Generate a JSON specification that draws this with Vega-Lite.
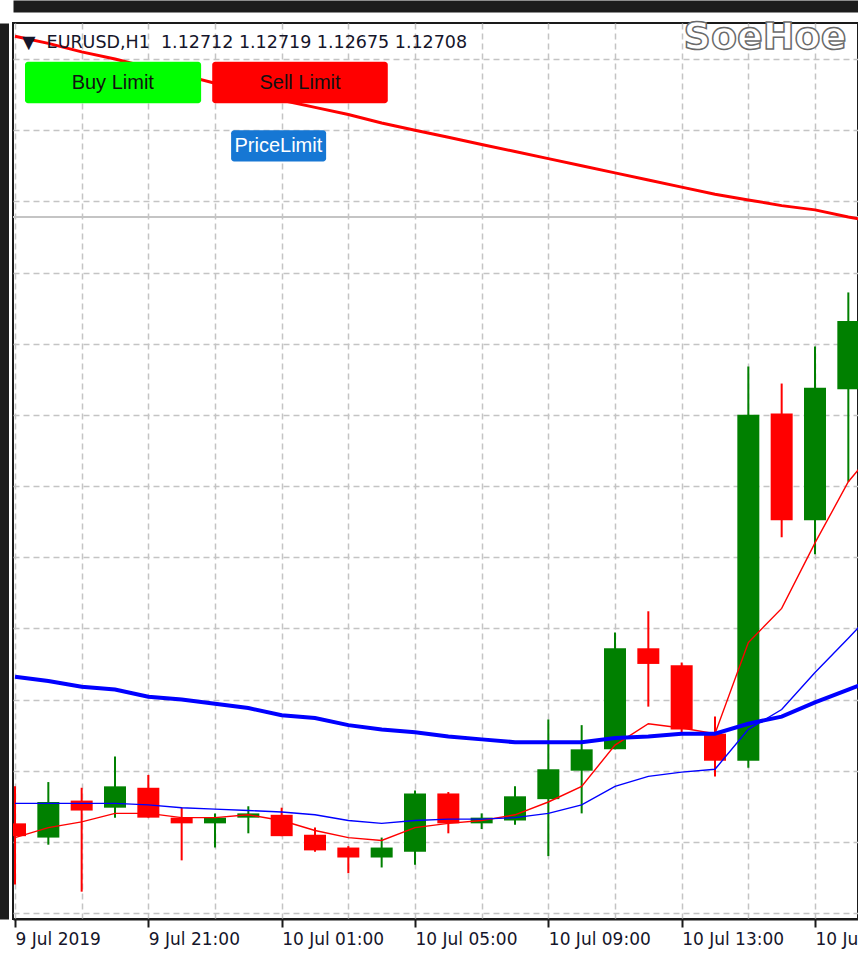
{
  "$schema": "https://vega.github.io/schema/vega-lite/v6.json",
  "width": 845,
  "height": 896,
  "autosize": "none",
  "padding": {"left": 13, "top": 23, "right": 0, "bottom": 47},
  "background": "#ffffff",
  "config": {"view": {"stroke": "#1a1a1a", "strokeWidth": 2}},
  "title": {
    "text": "▼\u00a0\u00a0EURUSD,H1\u00a0\u00a01.12712 1.12719 1.12675 1.12708",
    "anchor": "start",
    "frame": "group",
    "font": "DejaVu Sans",
    "fontSize": 17.5,
    "fontWeight": "normal",
    "color": "#15152a",
    "baseline": "alphabetic",
    "offset": -59,
    "dx": 9
  },
  "datasets": {
    "bars": [
      {"t": "2019-07-09T17:00", "o": 1.12063, "h": 1.12089, "l": 1.12020, "c": 1.12054, "f": 1.12053, "m": 1.12077, "s": 1.12166, "tr": 1.12616},
      {"t": "2019-07-09T18:00", "o": 1.12053, "h": 1.12092, "l": 1.12048, "c": 1.12078, "f": 1.12060, "m": 1.12077, "s": 1.12163, "tr": 1.12611},
      {"t": "2019-07-09T19:00", "o": 1.12079, "h": 1.12088, "l": 1.12015, "c": 1.12072, "f": 1.12064, "m": 1.12077, "s": 1.12159, "tr": 1.12605},
      {"t": "2019-07-09T20:00", "o": 1.12074, "h": 1.12110, "l": 1.12067, "c": 1.12089, "f": 1.12070, "m": 1.12077, "s": 1.12157, "tr": 1.12600},
      {"t": "2019-07-09T21:00", "o": 1.12088, "h": 1.12097, "l": 1.12067, "c": 1.12067, "f": 1.12070, "m": 1.12076, "s": 1.12152, "tr": 1.12594},
      {"t": "2019-07-09T22:00", "o": 1.12067, "h": 1.12074, "l": 1.12037, "c": 1.12063, "f": 1.12067, "m": 1.12074, "s": 1.12150, "tr": 1.12589},
      {"t": "2019-07-09T23:00", "o": 1.12063, "h": 1.12070, "l": 1.12046, "c": 1.12067, "f": 1.12067, "m": 1.12073, "s": 1.12147, "tr": 1.12583},
      {"t": "2019-07-10T00:00", "o": 1.12067, "h": 1.12075, "l": 1.12056, "c": 1.12070, "f": 1.12069, "m": 1.12072, "s": 1.12144, "tr": 1.12577},
      {"t": "2019-07-10T01:00", "o": 1.12069, "h": 1.12074, "l": 1.12054, "c": 1.12054, "f": 1.12065, "m": 1.12071, "s": 1.12139, "tr": 1.12571},
      {"t": "2019-07-10T02:00", "o": 1.12055, "h": 1.12060, "l": 1.12043, "c": 1.12044, "f": 1.12058, "m": 1.12069, "s": 1.12137, "tr": 1.12566},
      {"t": "2019-07-10T03:00", "o": 1.12046, "h": 1.12047, "l": 1.12028, "c": 1.12039, "f": 1.12053, "m": 1.12065, "s": 1.12132, "tr": 1.12561},
      {"t": "2019-07-10T04:00", "o": 1.12039, "h": 1.12053, "l": 1.12032, "c": 1.12046, "f": 1.12051, "m": 1.12063, "s": 1.12129, "tr": 1.12555},
      {"t": "2019-07-10T05:00", "o": 1.12043, "h": 1.12086, "l": 1.12034, "c": 1.12084, "f": 1.12060, "m": 1.12065, "s": 1.12127, "tr": 1.12550},
      {"t": "2019-07-10T06:00", "o": 1.12084, "h": 1.12085, "l": 1.12056, "c": 1.12063, "f": 1.12063, "m": 1.12066, "s": 1.12124, "tr": 1.12545},
      {"t": "2019-07-10T07:00", "o": 1.12063, "h": 1.12070, "l": 1.12059, "c": 1.12067, "f": 1.12065, "m": 1.12066, "s": 1.12122, "tr": 1.12540},
      {"t": "2019-07-10T08:00", "o": 1.12065, "h": 1.12089, "l": 1.12062, "c": 1.12082, "f": 1.12069, "m": 1.12067, "s": 1.12120, "tr": 1.12535},
      {"t": "2019-07-10T09:00", "o": 1.12080, "h": 1.12136, "l": 1.12040, "c": 1.12101, "f": 1.12078, "m": 1.12070, "s": 1.12120, "tr": 1.12530},
      {"t": "2019-07-10T10:00", "o": 1.12100, "h": 1.12132, "l": 1.12070, "c": 1.12115, "f": 1.12089, "m": 1.12076, "s": 1.12120, "tr": 1.12525},
      {"t": "2019-07-10T11:00", "o": 1.12115, "h": 1.12197, "l": 1.12115, "c": 1.12186, "f": 1.12118, "m": 1.12089, "s": 1.12123, "tr": 1.12520},
      {"t": "2019-07-10T12:00", "o": 1.12186, "h": 1.12212, "l": 1.12145, "c": 1.12175, "f": 1.12133, "m": 1.12096, "s": 1.12124, "tr": 1.12515},
      {"t": "2019-07-10T13:00", "o": 1.12174, "h": 1.12176, "l": 1.12126, "c": 1.12129, "f": 1.12130, "m": 1.12099, "s": 1.12126, "tr": 1.12510},
      {"t": "2019-07-10T14:00", "o": 1.12126, "h": 1.12138, "l": 1.12096, "c": 1.12107, "f": 1.12126, "m": 1.12101, "s": 1.12126, "tr": 1.12505},
      {"t": "2019-07-10T15:00", "o": 1.12107, "h": 1.12384, "l": 1.12102, "c": 1.12350, "f": 1.12190, "m": 1.12129, "s": 1.12133, "tr": 1.12501},
      {"t": "2019-07-10T16:00", "o": 1.12351, "h": 1.12372, "l": 1.12264, "c": 1.12276, "f": 1.12214, "m": 1.12143, "s": 1.12138, "tr": 1.12497},
      {"t": "2019-07-10T17:00", "o": 1.12276, "h": 1.12398, "l": 1.12252, "c": 1.12369, "f": 1.12260, "m": 1.12169, "s": 1.12148, "tr": 1.12494},
      {"t": "2019-07-10T18:00", "o": 1.12368, "h": 1.12436, "l": 1.12303, "c": 1.12416, "f": 1.12303, "m": 1.12193, "s": 1.12157, "tr": 1.12489},
      {"t": "2019-07-10T19:00", "o": null, "h": null, "l": null, "c": null, "f": 1.12331, "m": 1.12218, "s": 1.12166, "tr": 1.12485}
    ],
    "buttons": [
      {"label": "Buy Limit", "t0": "2019-07-09T17:18", "t1": "2019-07-09T22:35", "p0": 1.12569, "p1": 1.12598, "tm": "2019-07-09T19:56", "pm": 1.12583},
      {"label": "Sell Limit", "t0": "2019-07-09T22:55", "t1": "2019-07-10T04:11", "p0": 1.12569, "p1": 1.12598, "tm": "2019-07-10T01:33", "pm": 1.12583},
      {"label": "PriceLimit", "t0": "2019-07-09T23:29", "t1": "2019-07-10T02:20", "p0": 1.12528, "p1": 1.12550, "tm": "2019-07-10T00:54", "pm": 1.12539}
    ],
    "logo": [
      {"label": "SoeHoe", "t": "2019-07-10T15:30", "p": 1.12615}
    ],
    "hline": [
      {"p": 1.12489}
    ]
  },
  "resolve": {"axis": {"x": "independent"}},
  "layer": [
    {
      "data": {"name": "bars"},
      "transform": [{"filter": "datum.o != null"}],
      "mark": {"type": "rule", "strokeWidth": 2, "clip": true},
      "encoding": {
        "x": {
          "field": "t", "type": "temporal",
          "scale": {"domain": [{"year": 2019, "month": "jul", "date": 9, "hours": 16, "minutes": 56, "seconds": 24}, {"year": 2019, "month": "jul", "date": 10, "hours": 18, "minutes": 17, "seconds": 24}], "nice": false, "padding": 0},
          "axis": {
            "orient": "bottom", "title": null,
            "grid": true, "gridColor": "#c4c4c4", "gridDash": [6, 4], "gridWidth": 1.5,
            "domain": true, "domainColor": "#1a1a1a", "domainWidth": 2,
            "ticks": true, "tickColor": "#1a1a1a", "tickWidth": 2, "tickSize": 8,
            "tickOpacity": {"condition": {"test": "hours(datum.value) % 4 == 1", "value": 1}, "value": 0},
            "labelAlign": "left", "labelBaseline": "top", "labelPadding": 4,
            "labelFont": "DejaVu Sans", "labelFontSize": 17, "labelColor": "#15152a",
            "labelFlush": false, "labelOverlap": false, "labelBound": false,
            "labelExpr": "hours(datum.value) % 4 != 1 ? '' : (date(datum.value) == 9 && hours(datum.value) == 17 ? '9 Jul 2019' : timeFormat(datum.value, '%-d %b %H:%M'))",
            "values": [
              {"year": 2019, "month": "jul", "date": 9, "hours": 17},
              {"year": 2019, "month": "jul", "date": 9, "hours": 19},
              {"year": 2019, "month": "jul", "date": 9, "hours": 21},
              {"year": 2019, "month": "jul", "date": 9, "hours": 23},
              {"year": 2019, "month": "jul", "date": 10, "hours": 1},
              {"year": 2019, "month": "jul", "date": 10, "hours": 3},
              {"year": 2019, "month": "jul", "date": 10, "hours": 5},
              {"year": 2019, "month": "jul", "date": 10, "hours": 7},
              {"year": 2019, "month": "jul", "date": 10, "hours": 9},
              {"year": 2019, "month": "jul", "date": 10, "hours": 11},
              {"year": 2019, "month": "jul", "date": 10, "hours": 13},
              {"year": 2019, "month": "jul", "date": 10, "hours": 15},
              {"year": 2019, "month": "jul", "date": 10, "hours": 17}
            ]
          }
        },
        "y": {
          "field": "l", "type": "quantitative",
          "scale": {"domain": [1.119958, 1.126253], "nice": false, "zero": false, "padding": 0},
          "axis": {
            "orient": "left", "title": null, "labels": false, "ticks": false,
            "domain": true, "domainColor": "#1c1c1c", "domainWidth": 9, "offset": 9,
            "grid": true, "gridColor": "#c4c4c4", "gridDash": [6, 4], "gridWidth": 1.5,
            "values": [1.1200, 1.1205, 1.1210, 1.1215, 1.1220, 1.1225, 1.1230, 1.1235, 1.1240, 1.1245, 1.1250, 1.1255, 1.1260]
          }
        },
        "y2": {"field": "h"},
        "color": {"condition": {"test": "datum.c >= datum.o", "value": "#008000"}, "value": "#ff0000"}
      }
    },
    {
      "data": {"name": "hline"},
      "mark": {"type": "rule", "color": "#c4c4c4", "strokeWidth": 2},
      "encoding": {
        "y": {"field": "p", "type": "quantitative"}
      }
    },
    {
      "data": {"name": "bars"},
      "mark": {"type": "line", "color": "#ff0000", "strokeWidth": 3, "clip": true},
      "encoding": {
        "x": {
          "field": "t", "type": "temporal",
          "axis": {
            "orient": "top", "title": null, "labels": false, "ticks": false, "grid": false,
            "domain": true, "domainColor": "#1c1c1c", "domainWidth": 12, "offset": 17
          }
        },
        "y": {"field": "tr", "type": "quantitative"}
      }
    },
    {
      "data": {"name": "bars"},
      "transform": [{"filter": "datum.o != null"}],
      "mark": {"type": "bar", "size": 22, "clip": true},
      "encoding": {
        "x": {"field": "t", "type": "temporal", "axis": null},
        "y": {"field": "o", "type": "quantitative"},
        "y2": {"field": "c"},
        "color": {"condition": {"test": "datum.c >= datum.o", "value": "#008000"}, "value": "#ff0000"}
      }
    },
    {
      "data": {"name": "bars"},
      "mark": {"type": "line", "color": "#ff0000", "strokeWidth": 1.4, "clip": true},
      "encoding": {
        "x": {"field": "t", "type": "temporal", "axis": null},
        "y": {"field": "f", "type": "quantitative"}
      }
    },
    {
      "data": {"name": "bars"},
      "mark": {"type": "line", "color": "#0000ff", "strokeWidth": 1.4, "clip": true},
      "encoding": {
        "x": {"field": "t", "type": "temporal", "axis": null},
        "y": {"field": "m", "type": "quantitative"}
      }
    },
    {
      "data": {"name": "bars"},
      "mark": {"type": "line", "color": "#0000ff", "strokeWidth": 4, "clip": true},
      "encoding": {
        "x": {"field": "t", "type": "temporal", "axis": null},
        "y": {"field": "s", "type": "quantitative"}
      }
    },
    {
      "data": {"name": "buttons"},
      "mark": {"type": "rect", "cornerRadius": 3},
      "encoding": {
        "x": {"field": "t0", "type": "temporal", "axis": null},
        "x2": {"field": "t1"},
        "y": {"field": "p0", "type": "quantitative"},
        "y2": {"field": "p1"},
        "color": {"field": "label", "type": "nominal", "legend": null, "scale": {"domain": ["Buy Limit", "Sell Limit", "PriceLimit"], "range": ["#00ff00", "#ff0000", "#1677d4"]}}
      }
    },
    {
      "data": {"name": "buttons"},
      "mark": {"type": "text", "font": "Liberation Sans", "fontSize": 20, "align": "center", "baseline": "middle"},
      "encoding": {
        "x": {"field": "tm", "type": "temporal", "axis": null},
        "y": {"field": "pm", "type": "quantitative"},
        "text": {"field": "label"},
        "color": {"condition": {"test": "datum.label == 'PriceLimit'", "value": "#ffffff"}, "value": "#111111"}
      }
    },
    {
      "data": {"name": "logo"},
      "mark": {"type": "text", "font": "DejaVu Sans", "fontSize": 38, "fontWeight": "bold", "align": "center", "baseline": "middle", "fill": "#ffffff", "stroke": "#6a6a6a", "strokeWidth": 1.5},
      "encoding": {
        "x": {"field": "t", "type": "temporal", "axis": null},
        "y": {"field": "p", "type": "quantitative"},
        "text": {"field": "label"}
      }
    }
  ]
}
